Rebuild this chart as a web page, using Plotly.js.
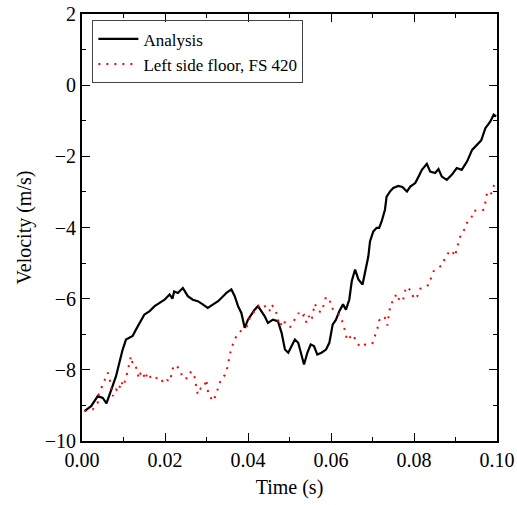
<!DOCTYPE html>
<html>
<head>
<meta charset="utf-8">
<script src="https://cdn.plot.ly/plotly-3.0.1.min.js"></script>
<style>html,body{margin:0;padding:0;background:#fff;}#chart{width:517px;height:505px;}</style>
</head>
<body>
<div id="chart"></div>
<script>
// Analysis (black solid)
const analysisTime = [0.0006,0.0022,0.0038,0.005,0.0059,0.007,0.0082,0.009,0.0098,0.0106,0.0114,0.0122,0.013,0.0143,0.015,0.0163,0.0175,0.0187,0.0199,0.0211,0.0218,0.0222,0.0231,0.0243,0.0255,0.0267,0.0279,0.0291,0.0303,0.0316,0.0328,0.034,0.0348,0.036,0.0368,0.0376,0.0384,0.0392,0.04,0.0408,0.0416,0.0424,0.0432,0.044,0.0448,0.046,0.0472,0.0481,0.0489,0.0497,0.0505,0.0513,0.0521,0.0529,0.0535,0.0543,0.0551,0.0559,0.0567,0.0577,0.0588,0.0596,0.0604,0.0612,0.062,0.0629,0.0636,0.0644,0.065,0.0658,0.0666,0.0676,0.0684,0.069,0.0694,0.0702,0.071,0.0716,0.0722,0.073,0.0734,0.0742,0.075,0.0762,0.0772,0.0783,0.0791,0.0803,0.0811,0.0819,0.0831,0.0839,0.0851,0.0859,0.0867,0.0879,0.0891,0.0903,0.0915,0.0928,0.094,0.0952,0.0962,0.0972,0.0984,0.0992,0.0998];
const analysisVel = [-9.16,-9.02,-8.74,-8.79,-8.94,-8.55,-8.18,-7.80,-7.43,-7.15,-7.10,-7.05,-6.87,-6.59,-6.45,-6.35,-6.21,-6.12,-6.03,-5.88,-6.00,-5.80,-5.84,-5.70,-5.93,-6.03,-6.07,-6.16,-6.26,-6.16,-6.07,-5.93,-5.84,-5.74,-5.93,-6.21,-6.40,-6.82,-6.59,-6.45,-6.31,-6.21,-6.35,-6.49,-6.68,-6.59,-6.63,-6.96,-7.43,-7.52,-7.33,-7.15,-7.24,-7.62,-7.85,-7.52,-7.29,-7.33,-7.57,-7.52,-7.43,-7.24,-6.73,-6.59,-6.35,-6.16,-6.31,-6.03,-5.51,-5.18,-5.46,-5.60,-5.09,-4.81,-4.39,-4.11,-4.01,-4.01,-3.83,-3.50,-3.13,-2.99,-2.89,-2.83,-2.86,-2.99,-2.85,-2.75,-2.57,-2.38,-2.21,-2.43,-2.47,-2.36,-2.57,-2.66,-2.52,-2.33,-2.38,-2.14,-1.82,-1.68,-1.55,-1.21,-1.02,-0.83,-0.88];

// Left side floor, FS 420 (red dotted)
const floorTime = [0.0006,0.0026,0.0038,0.004,0.0047,0.0054,0.0062,0.0066,0.007,0.0074,0.0082,0.0088,0.0094,0.010,0.0109,0.0113,0.0118,0.0122,0.0128,0.0133,0.0137,0.0141,0.0146,0.0152,0.0158,0.0168,0.0187,0.0197,0.0205,0.0213,0.0216,0.0221,0.0229,0.0237,0.0243,0.0255,0.0263,0.0273,0.0275,0.0279,0.0286,0.0294,0.03,0.0301,0.0305,0.0316,0.0324,0.0329,0.0336,0.0344,0.035,0.0354,0.0358,0.0364,0.0372,0.0384,0.04,0.0404,0.0414,0.0424,0.0432,0.0439,0.0446,0.0452,0.0457,0.0467,0.0472,0.0477,0.0486,0.0491,0.0502,0.0513,0.0522,0.0527,0.0535,0.0541,0.0547,0.0553,0.0557,0.0561,0.0568,0.0576,0.0583,0.0588,0.0597,0.0601,0.0614,0.0623,0.063,0.0634,0.0639,0.0648,0.0654,0.066,0.0671,0.0678,0.0694,0.07,0.0706,0.0712,0.0716,0.072,0.0726,0.073,0.0736,0.0738,0.0741,0.0744,0.0752,0.0757,0.0765,0.0773,0.0777,0.0781,0.0795,0.0799,0.0808,0.0815,0.0827,0.0837,0.0841,0.0847,0.0859,0.0867,0.0871,0.0875,0.0882,0.0887,0.0893,0.0899,0.0903,0.0909,0.0914,0.0923,0.0929,0.0938,0.0943,0.0956,0.0964,0.0969,0.0973,0.0976,0.0982,0.0988,0.0993,0.0998];
const floorVel = [-9.16,-9.11,-8.92,-8.70,-8.50,-8.30,-8.08,-8.22,-8.50,-8.74,-8.55,-8.62,-8.32,-8.46,-8.08,-7.85,-7.62,-7.82,-7.83,-8.04,-8.24,-8.10,-8.04,-8.27,-8.08,-8.27,-8.20,-8.38,-8.29,-8.32,-8.08,-7.87,-7.90,-8.02,-8.24,-8.24,-8.04,-8.24,-8.47,-8.69,-8.52,-8.50,-8.27,-8.44,-8.69,-8.88,-8.67,-8.46,-8.24,-8.15,-7.94,-7.71,-7.49,-7.27,-7.05,-6.89,-6.75,-6.54,-6.38,-6.21,-6.17,-6.16,-6.35,-6.33,-6.16,-6.35,-6.59,-6.77,-6.59,-6.75,-6.79,-6.59,-6.40,-6.52,-6.46,-6.68,-6.49,-6.61,-6.40,-6.14,-6.33,-6.38,-6.16,-5.95,-6.04,-6.26,-6.37,-6.51,-6.73,-6.94,-7.17,-7.05,-7.01,-7.21,-7.36,-7.31,-7.24,-7.25,-7.05,-6.83,-6.61,-6.57,-6.49,-6.54,-6.75,-6.56,-6.33,-6.12,-6.07,-5.86,-6.04,-6.08,-5.86,-5.67,-5.79,-6.01,-5.93,-5.72,-5.67,-5.60,-5.42,-5.23,-5.12,-5.07,-4.99,-4.81,-4.73,-4.64,-4.68,-4.81,-4.59,-4.38,-4.15,-4.04,-3.82,-3.74,-3.53,-3.52,-3.52,-3.49,-3.27,-3.03,-3.10,-3.01,-2.80,-2.75];

const xTickVals = [0, 0.02, 0.04, 0.06, 0.08, 0.10];
const xTickText = ['0.00','0.02','0.04','0.06','0.08','0.10'];
const yTickVals = [-10, -8, -6, -4, -2, 0, 2];
const yTickText = ['\u221210','\u22128','\u22126','\u22124','\u22122','0','2'];

const FONT = '"Liberation Serif", "DejaVu Serif", serif';

const traces = [
  {x: analysisTime, y: analysisVel, type: 'scatter', mode: 'lines', name: 'Analysis',
   line: {color: '#000000', width: 2.2}},
  {x: floorTime, y: floorVel, type: 'scatter', mode: 'lines', name: 'Left side floor, FS 420',
   line: {color: '#ff0000', width: 2, dash: '2px,6px'}}
];

const axisCommon = {
  showgrid: false, zeroline: false, showline: true, linecolor: '#000', linewidth: 2,
  mirror: 'allticks', ticks: 'inside', ticklen: 8, tickwidth: 1, tickcolor: '#000',
  tickfont: {family: FONT, size: 20, color: '#000'}
};

const layout = {
  width: 517, height: 505,
  margin: {l: 82, r: 20, t: 14, b: 64},
  paper_bgcolor: '#fff', plot_bgcolor: '#fff',
  font: {family: FONT, color: '#000'},
  showlegend: true,
  legend: {x: 0.025, y: 0.985, xanchor: 'left', yanchor: 'top',
    bgcolor: 'rgba(255,255,255,0)', bordercolor: '#444', borderwidth: 1,
    font: {family: FONT, size: 17, color: '#000'}, tracegroupgap: 0, itemwidth: 40},
  xaxis: Object.assign({}, axisCommon, {
    range: [0, 0.1], tickvals: xTickVals, ticktext: xTickText,
    minor: {dtick: 0.01, ticks: 'inside', ticklen: 4, tickwidth: 1, tickcolor: '#000'},
    title: {text: 'Time (s)', font: {family: FONT, size: 20, color: '#000'}, standoff: 10}
  }),
  yaxis: Object.assign({}, axisCommon, {
    range: [-10, 2], tickvals: yTickVals, ticktext: yTickText,
    minor: {dtick: 1, ticks: 'inside', ticklen: 4, tickwidth: 1, tickcolor: '#000'},
    title: {text: 'Velocity (m/s)', font: {family: FONT, size: 20, color: '#000'}, standoff: 8}
  })
};

Plotly.newPlot('chart', traces, layout, {displayModeBar: false, staticPlot: true});
</script>
</body>
</html>
